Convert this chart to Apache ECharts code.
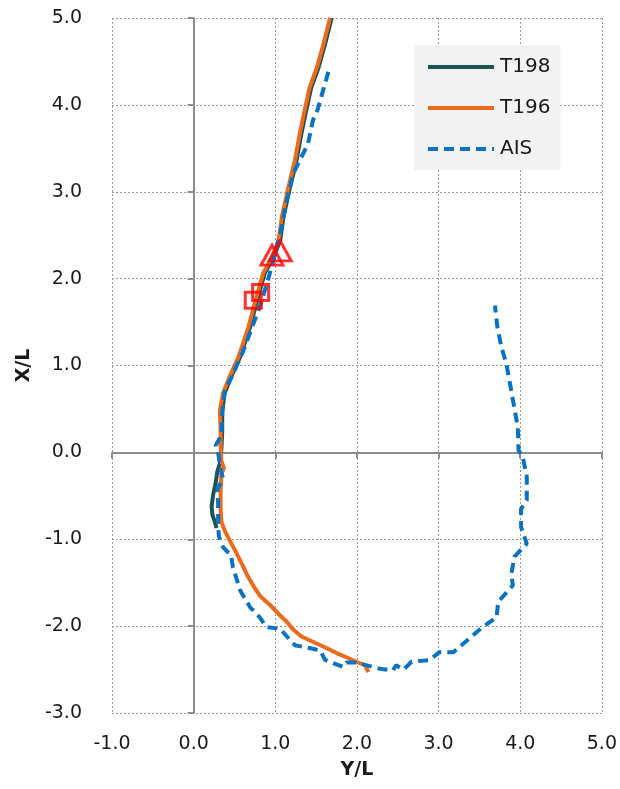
<!DOCTYPE html>
<html>
<head>
<meta charset="utf-8">
<script src="https://cdn.jsdelivr.net/npm/echarts@6/dist/echarts.min.js"></script>
<style>
html,body{margin:0;padding:0;background:#fff;}
#c{width:620px;height:789px;}
</style>
</head>
<body>
<div id="c"></div>
<script>
// [Y/L, X/L]
var t198 = [[1.69,5.00],[1.61,4.70],[1.53,4.43],[1.44,4.20],[1.38,3.94],[1.32,3.67],[1.26,3.36],[1.18,3.05],[1.10,2.71],[1.06,2.44],[0.98,2.25],[0.87,2.06],[0.79,1.79],[0.69,1.44],[0.57,1.10],[0.46,0.87],[0.38,0.68],[0.35,0.48],[0.35,0.25],[0.34,0.05],[0.33,-0.10],[0.29,-0.22],[0.27,-0.35],[0.24,-0.48],[0.22,-0.62],[0.23,-0.72],[0.26,-0.80],[0.28,-0.87]];
var t196 = [[1.67,5.00],[1.59,4.70],[1.51,4.43],[1.42,4.20],[1.36,3.94],[1.30,3.67],[1.24,3.36],[1.16,3.05],[1.08,2.71],[1.04,2.44],[0.96,2.25],[0.85,2.06],[0.77,1.79],[0.67,1.44],[0.55,1.10],[0.44,0.87],[0.36,0.68],[0.32,0.48],[0.33,0.25],[0.33,0.05],[0.34,-0.10],[0.37,-0.18],[0.34,-0.25],[0.33,-0.45],[0.33,-0.65],[0.34,-0.80],[0.38,-0.90],[0.44,-1.01],[0.52,-1.15],[0.60,-1.30],[0.66,-1.42],[0.74,-1.55],[0.82,-1.66],[0.94,-1.76],[1.04,-1.86],[1.14,-1.95],[1.22,-2.04],[1.32,-2.12],[1.46,-2.18],[1.60,-2.24],[1.75,-2.31],[1.90,-2.37],[1.99,-2.41],[2.10,-2.45],[2.14,-2.53]];
var ais = [[1.65,4.38],[1.58,4.15],[1.52,3.95],[1.46,3.82],[1.40,3.55],[1.32,3.40],[1.22,3.21],[1.18,3.05],[1.14,2.90],[1.06,2.52],[0.98,2.22],[0.90,1.95],[0.80,1.65],[0.70,1.40],[0.60,1.15],[0.48,0.90],[0.38,0.70],[0.35,0.45],[0.34,0.20],[0.27,0.08],[0.30,0.00],[0.33,-0.20],[0.36,-0.30],[0.29,-0.42],[0.30,-0.60],[0.30,-0.85],[0.31,-0.97],[0.36,-1.09],[0.46,-1.19],[0.48,-1.32],[0.57,-1.59],[0.69,-1.78],[0.81,-1.90],[0.89,-2.01],[1.06,-2.03],[1.18,-2.16],[1.24,-2.22],[1.46,-2.26],[1.55,-2.28],[1.61,-2.39],[1.83,-2.47],[1.87,-2.42],[1.99,-2.42],[2.28,-2.49],[2.44,-2.51],[2.48,-2.45],[2.57,-2.50],[2.67,-2.41],[2.89,-2.39],[3.01,-2.30],[3.18,-2.30],[3.38,-2.14],[3.54,-2.01],[3.71,-1.90],[3.73,-1.72],[3.91,-1.53],[3.89,-1.40],[3.93,-1.20],[4.08,-1.05],[4.01,-0.86],[4.01,-0.65],[4.08,-0.55],[4.08,-0.28],[4.03,-0.05],[3.98,0.02],[3.97,0.29],[3.93,0.50],[3.89,0.71],[3.83,1.02],[3.77,1.21],[3.72,1.44],[3.69,1.69]];
var triangleMarks = [[0.96,2.27],[1.06,2.32]];
var squareMarks = [[0.73,1.75],[0.82,1.84]];
var seriesNames = ['T198','T196','AIS'];
var xName = 'Y/L', yName = 'X/L';
var xMin = -1, xMax = 5, yMin = -3, yMax = 5, step = 1;

var FONT = 'DejaVu Sans';
var gridLine = {show:true, lineStyle:{color:'#9a9a9a', type:[2,2], width:1}};
var noFill = 'rgba(0,0,0,0)';
var chart = echarts.init(document.getElementById('c'), null, {renderer:'canvas'});
chart.setOption({
  animation:false,
  backgroundColor:'#ffffff',
  grid:{left:112, right:18, top:18, bottom:76, containLabel:false},
  legend:{
    orient:'vertical', left:414, top:45,
    backgroundColor:'#f2f2f2', borderWidth:0,
    padding:[12,10,11,12],
    itemWidth:66, itemHeight:22, itemGap:21,
    itemStyle:{opacity:0},
    lineStyle:{width:4},
    textStyle:{fontFamily:FONT, fontSize:20, color:'#1a1a1a', padding:[0,0,0,1]},
    data:seriesNames
  },
  xAxis:[
    {type:'value', min:xMin, max:xMax, interval:step, position:'bottom',
     axisLine:{show:false, onZero:false}, axisTick:{show:false},
     axisLabel:{fontFamily:FONT, fontSize:19, color:'#1a1a1a', margin:22, formatter:function(v){return v.toFixed(1);}},
     splitLine:gridLine,
     name:xName, nameLocation:'middle', nameGap:48,
     nameTextStyle:{fontFamily:FONT, fontSize:19, fontWeight:'bold', color:'#1a1a1a'}},
    {type:'value', min:xMin, max:xMax, interval:step, position:'bottom',
     axisLine:{show:true, onZero:true, onZeroAxisIndex:0, lineStyle:{color:'#8c8c8c', width:2}},
     axisTick:{show:true, length:6, lineStyle:{color:'#8c8c8c', width:2}},
     axisLabel:{show:false}, splitLine:{show:false}}
  ],
  yAxis:[
    {type:'value', min:yMin, max:yMax, interval:step, position:'left',
     axisLine:{show:false, onZero:false}, axisTick:{show:false},
     axisLabel:{fontFamily:FONT, fontSize:19, color:'#1a1a1a', margin:30, formatter:function(v){return v.toFixed(1);}},
     splitLine:gridLine,
     name:yName, nameLocation:'middle', nameGap:74, nameRotate:90,
     nameTextStyle:{fontFamily:FONT, fontSize:19, fontWeight:'bold', color:'#1a1a1a'}},
    {type:'value', min:yMin, max:yMax, interval:step, position:'left',
     axisLine:{show:true, onZero:true, onZeroAxisIndex:0, lineStyle:{color:'#8c8c8c', width:2}},
     axisTick:{show:true, length:6, lineStyle:{color:'#8c8c8c', width:2}},
     axisLabel:{show:false}, splitLine:{show:false}}
  ],
  series:[
    {name:seriesNames[0], type:'line', data:t198, symbol:'none', showSymbol:false,
     lineStyle:{color:'#1f5255', width:4}, itemStyle:{color:noFill}, z:2},
    {name:seriesNames[1], type:'line', data:t196, symbol:'none', showSymbol:false,
     lineStyle:{color:'#ec6a1c', width:4}, itemStyle:{color:noFill}, z:3},
    {name:seriesNames[2], type:'line', data:ais, symbol:'none', showSymbol:false,
     lineStyle:{color:'#0a72c4', width:4, type:[10,6], cap:'butt'}, itemStyle:{color:noFill}, z:4},
    {name:'tri', type:'scatter', data:triangleMarks, symbol:'triangle', symbolSize:[22,20],
     itemStyle:{color:noFill, borderColor:'#ff0000', borderWidth:3}, z:5, silent:true},
    {name:'sq', type:'scatter', data:squareMarks, symbol:'rect', symbolSize:16,
     itemStyle:{color:noFill, borderColor:'#ff0000', borderWidth:3}, z:5, silent:true}
  ]
});
</script>
</body>
</html>
